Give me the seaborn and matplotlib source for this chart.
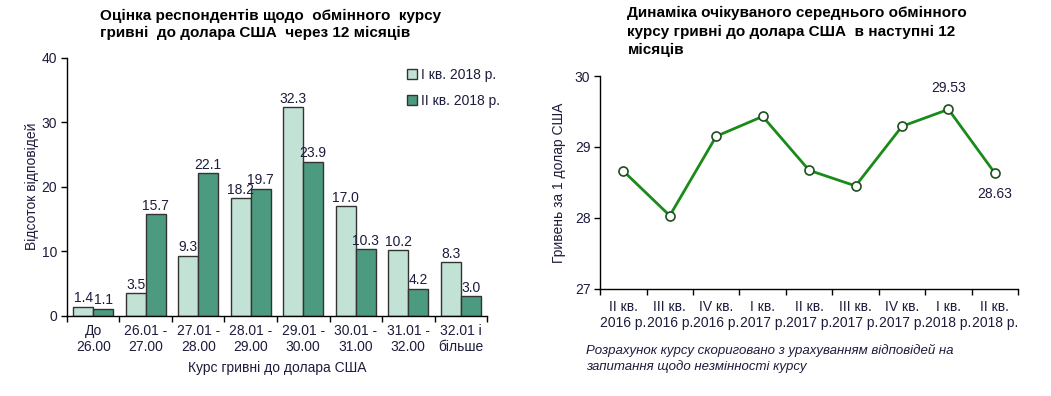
import matplotlib
matplotlib.use("Agg")
import matplotlib.pyplot as plt
import seaborn as sns
import pandas as pd
import numpy as np
from matplotlib.ticker import FixedLocator

# ---- data ----
ranges = ["До\n26.00", "26.01 -\n27.00", "27.01 -\n28.00", "28.01 -\n29.00",
          "29.01 -\n30.00", "30.01 -\n31.00", "31.01 -\n32.00", "32.01 і\nбільше"]
q1_2018 = [1.4, 3.5, 9.3, 18.2, 32.3, 17.0, 10.2, 8.3]
q2_2018 = [1.1, 15.7, 22.1, 19.7, 23.9, 10.3, 4.2, 3.0]
series_names = ["I кв. 2018 р.", "II кв. 2018 р."]

quarters = ["II кв.\n2016 р.", "III кв.\n2016 р.", "IV кв.\n2016 р.", "I кв.\n2017 р.",
            "II кв.\n2017 р.", "III кв.\n2017 р.", "IV кв.\n2017 р.", "I кв.\n2018 р.",
            "II кв.\n2018 р."]
expected_rate = [28.66, 28.03, 29.15, 29.43, 28.67, 28.45, 29.29, 29.53, 28.63]

sns.set_theme(style="white")
plt.rcParams['font.family'] = ['Liberation Sans', 'DejaVu Sans']

TXT = "#1c1c3c"
LIGHT = "#c2e2d6"
DARK = "#4c9a80"
EDGE = "#333333"

fig = plt.figure(figsize=(10.51, 3.96), dpi=100)

# ---------- bar chart ----------
ax1 = fig.add_axes([0.0637, 0.2028, 0.3997, 0.6515])
df = pd.DataFrame({
    "range": ranges * 2,
    "value": q1_2018 + q2_2018,
    "series": [series_names[0]] * len(ranges) + [series_names[1]] * len(ranges),
})
sns.barplot(data=df, x="range", y="value", hue="series", order=ranges,
            hue_order=series_names, palette=[LIGHT, DARK], width=0.76,
            edgecolor=EDGE, linewidth=1.0, ax=ax1, saturation=1)
for cont in ax1.containers:
    ax1.bar_label(cont, fmt="%.1f", padding=1, fontsize=10, color=TXT)
ax1.set_ylim(0, 40)
ax1.set_xlim(-0.5, len(ranges) - 0.5)
ax1.set_yticks([0, 10, 20, 30, 40])
ax1.set_xlabel("Курс гривні до долара США", fontsize=10, color=TXT, labelpad=5)
ax1.set_ylabel("Відсоток відповідей", fontsize=10, color=TXT, labelpad=2)
for s in ["top", "right"]:
    ax1.spines[s].set_visible(False)
for s in ["left", "bottom"]:
    ax1.spines[s].set_color("black")
    ax1.spines[s].set_linewidth(1.0)
ax1.tick_params(axis="y", which="major", direction="out", length=4, width=1,
                color="black", labelsize=10, labelcolor=TXT, left=True, pad=3)
ax1.tick_params(axis="x", which="major", length=0, labelsize=10, labelcolor=TXT, pad=6)
ax1.xaxis.set_minor_locator(FixedLocator(np.arange(-0.5, len(ranges), 1.0)))
ax1.tick_params(axis="x", which="minor", direction="out", length=4, width=1,
                color="black", bottom=True)
leg = ax1.legend(loc="upper right", bbox_to_anchor=(1.06, 1.01), frameon=False,
                 fontsize=10, handlelength=0.7, handleheight=0.7,
                 handletextpad=0.3, labelspacing=0.9)
for t in leg.get_texts():
    t.set_color(TXT)
for h in leg.legend_handles:
    h.set_edgecolor(EDGE)
    h.set_linewidth(1.0)

fig.text(0.095, 0.978, "Оцінка респондентів щодо  обмінного  курсу\nгривні  до долара США  через 12 місяців",
         ha="left", va="top", fontsize=11, fontweight="bold", color="black",
         linespacing=1.25)

# ---------- line chart ----------
ax2 = fig.add_axes([0.571, 0.271, 0.3977, 0.537])
ldf = pd.DataFrame({"pos": np.arange(len(quarters)), "rate": expected_rate})
sns.lineplot(data=ldf, x="pos", y="rate", ax=ax2, color="#1a8a1a", linewidth=2,
             marker="o", markersize=6.5, markerfacecolor="white",
             markeredgecolor="#1f4f1f", markeredgewidth=1.2)
ax2.set_ylim(27, 30)
ax2.set_xlim(-0.5, len(quarters) - 0.5)
ax2.set_yticks([27, 28, 29, 30])
ax2.set_xticks(np.arange(len(quarters)))
ax2.set_xticklabels(quarters)
ax2.set_xlabel("")
ax2.set_ylabel("Гривень за 1 долар США", fontsize=10, color=TXT, labelpad=6)
for s in ["top", "right"]:
    ax2.spines[s].set_visible(False)
for s in ["left", "bottom"]:
    ax2.spines[s].set_color("black")
    ax2.spines[s].set_linewidth(1.0)
ax2.tick_params(axis="y", which="major", direction="out", length=4, width=1,
                color="black", labelsize=10, labelcolor=TXT, left=True, pad=3)
ax2.tick_params(axis="x", which="major", length=0, labelsize=10, labelcolor=TXT, pad=8)
ax2.xaxis.set_minor_locator(FixedLocator(np.arange(-0.5, len(quarters), 1.0)))
ax2.tick_params(axis="x", which="minor", direction="out", length=4, width=1,
                color="black", bottom=True)
i8 = 7
ax2.annotate(f"{expected_rate[i8]:.2f}", (i8, expected_rate[i8]), xytext=(0, 10),
             textcoords="offset points", ha="center", va="bottom", fontsize=10, color=TXT)
i9 = 8
ax2.annotate(f"{expected_rate[i9]:.2f}", (i9, expected_rate[i9]), xytext=(0, -10),
             textcoords="offset points", ha="center", va="top", fontsize=10, color=TXT)

fig.text(0.597, 0.984, "Динаміка очікуваного середнього обмінного\nкурсу гривні до долара США  в наступні 12\nмісяців",
         ha="left", va="top", fontsize=11, fontweight="bold", color="black",
         linespacing=1.38)
fig.text(0.558, 0.132, "Розрахунок курсу скориговано з урахуванням відповідей на\nзапитання щодо незмінності курсу",
         ha="left", va="top", fontsize=9.5, style="italic", color=TXT, linespacing=1.3)

fig.savefig("out.png", dpi=100)
